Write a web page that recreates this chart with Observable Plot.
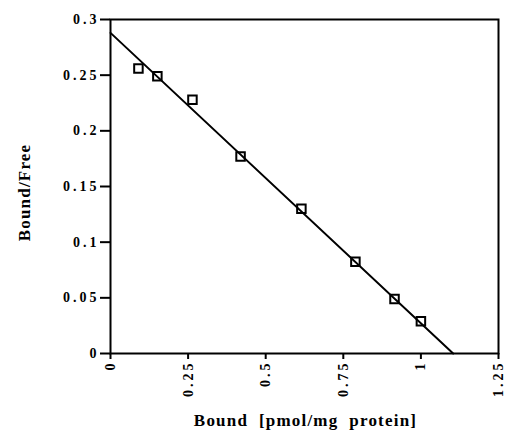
<!DOCTYPE html>
<html><head><meta charset="utf-8">
<script src="https://cdn.jsdelivr.net/npm/d3@7"></script>
<script src="https://cdn.jsdelivr.net/npm/@observablehq/plot@0.6"></script>
<style>
body{margin:0;background:#fff}
#chart svg .tick-lbl text{letter-spacing:3px}
#chart svg .axis-title text{letter-spacing:1.2px}
</style>
</head><body><div id="chart"></div><script>
const bound = [0.090, 0.151, 0.264, 0.419, 0.615, 0.789, 0.915, 1.000];
const boundFree = [0.256, 0.249, 0.228, 0.177, 0.130, 0.0825, 0.049, 0.029];
const fitX = [0, 1.104];
const fitY = [0.288, 0];
const xTicks = [0, 0.25, 0.5, 0.75, 1, 1.25];
const xTickLabels = ["0", "0.25", "0.5", "0.75", "1", "1.25"];
const yTicks = [0, 0.05, 0.1, 0.15, 0.2, 0.25, 0.3];
const yTickLabels = ["0", "0.05", "0.1", "0.15", "0.2", "0.25", "0.3"];
const xLabel = "Bound  [pmol/mg  protein]";
const yLabel = "Bound/Free";

const pts = bound.map((b, i) => ({x: b, y: boundFree[i]}));
const fit = fitX.map((b, i) => ({x: b, y: fitY[i]}));

const chart = Plot.plot({
  width: 507, height: 432,
  marginLeft: 110, marginRight: 9, marginTop: 19, marginBottom: 79,
  style: {fontFamily: "'Liberation Serif', serif", fontWeight: "bold", fontSize: "14px", color: "#000", background: "#fff"},
  x: {domain: [0, 1.25]},
  y: {domain: [0, 0.3]},
  marks: [
    Plot.axisX({ticks: xTicks, tickFormat: (d, i) => xTickLabels[i], tickRotate: -90, tickSize: 6, tickPadding: 1,
      strokeWidth: 2, fontSize: 14, className: "tick-lbl", label: null}),
    Plot.axisY({ticks: yTicks, tickFormat: (d, i) => yTickLabels[i], tickSize: 10, tickPadding: 1,
      strokeWidth: 2, fontSize: 14, className: "tick-lbl", label: null}),
    Plot.text([xLabel], {text: d => d, frameAnchor: "bottom", textAnchor: "middle", dx: 1, dy: 67, lineAnchor: "middle",
      fontSize: 17, fontWeight: "bold", fill: "#000", className: "axis-title"}),
    Plot.text([yLabel], {text: d => d, frameAnchor: "left", textAnchor: "middle", rotate: -90, dx: -86, dy: 6, lineAnchor: "middle",
      fontSize: 17, fontWeight: "bold", fill: "#000", className: "axis-title"}),
    Plot.frame({stroke: "#000", strokeWidth: 2}),
    Plot.line(fit, {x: "x", y: "y", stroke: "#000", strokeWidth: 2}),
    Plot.dot(pts, {x: "x", y: "y", symbol: "square", r: 4.8, stroke: "#000", strokeWidth: 2, fill: "none"})
  ]
});
document.getElementById("chart").appendChild(chart);
</script></body></html>
